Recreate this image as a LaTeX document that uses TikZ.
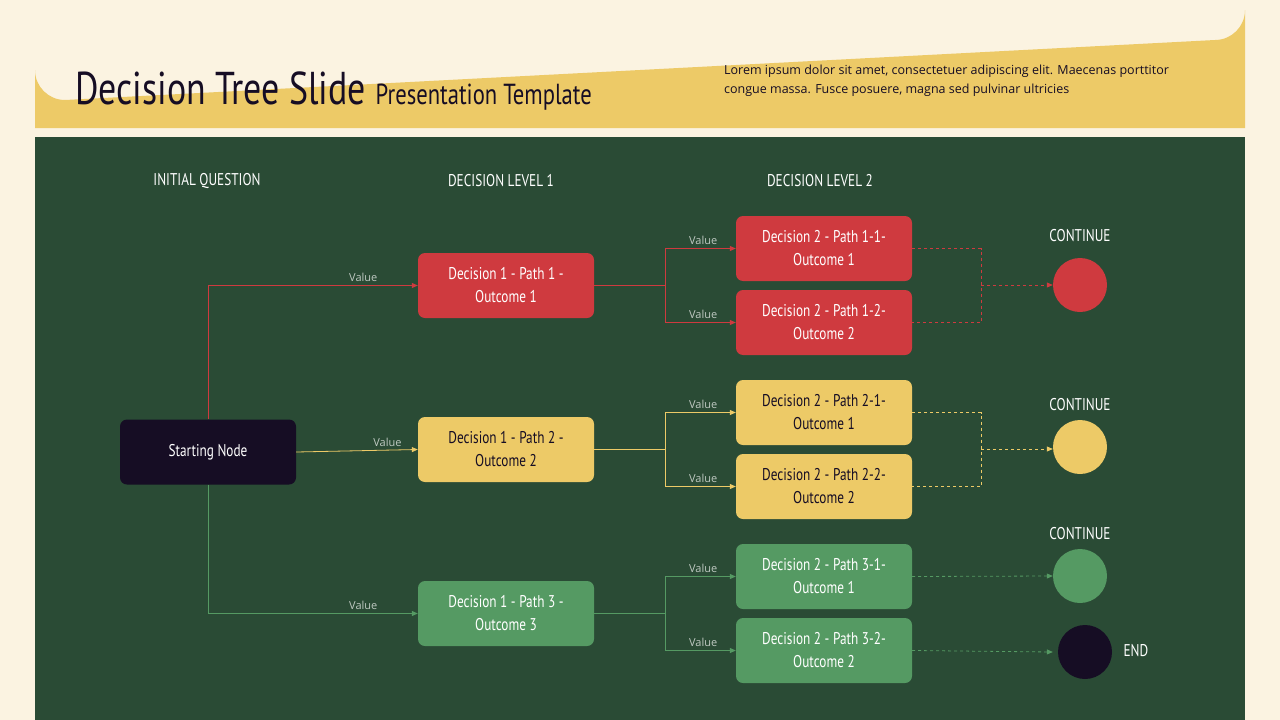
\documentclass[tikz,border=0pt]{standalone}
\usepackage{fontspec}
\setmainfont{Open Sans}
\newfontfamily\cond[FakeStretch=0.78]{PT Sans}
\usetikzlibrary{positioning,arrows.meta}
\definecolor{cream}{HTML}{FBF3E1}
\definecolor{gold}{HTML}{EDCA67}
\definecolor{forest}{HTML}{2A4B35}
\definecolor{berry}{HTML}{CF3A3F}
\definecolor{leaf}{HTML}{559A63}
\definecolor{ink}{HTML}{160D24}
\begin{document}
\begin{tikzpicture}[x=1pt,y=-1pt,
  box/.style={rectangle, rounded corners=7pt, minimum width=176pt, minimum height=65pt,
    align=center, font=\cond\fontsize{17}{23}\selectfont, text=white},
  head/.style={font=\cond\fontsize{17}{20}\selectfont, text=white},
  val/.style={font=\fontsize{11}{12}\selectfont, text=white!70!forest, anchor=south},
  dot/.style={circle, minimum size=54pt, inner sep=0pt},
  link/.style={-{Triangle[length=6pt,width=5pt]}, line width=0.8pt}]

\useasboundingbox (0,0) rectangle (1280,720);
\fill[cream] (0,0) rectangle (1280,720);

% header
\fill[gold] (35,128) -- (35,70) arc (180:90:30) -- (1215,40) arc (90:0:30) -- (1245,128) -- cycle;
\node[anchor=base west, inner sep=0, font=\cond\fontsize{46}{50}\selectfont, text=ink] (title) at (75,104)
  {Decision Tree Slide {\fontsize{29}{30}\selectfont Presentation Template}};
\node[anchor=north west, inner sep=0, align=left, font=\fontsize{12.5}{19}\selectfont, text=ink] (lorem) at (724,65)
  {Lorem ipsum dolor sit amet, consectetuer adipiscing elit. Maecenas porttitor\\congue massa. Fusce posuere, magna sed pulvinar ultricies};

% panel
\fill[forest] (35,137) rectangle (1245,720);

\node[head] (hInit) at (207,181) {INITIAL QUESTION};
\node[head] (hLevel1) at (501,181) {DECISION LEVEL 1};
\node[head] (hLevel2) at (820,181) {DECISION LEVEL 2};

% nodes
\node[box, fill=ink] (start) at (208,452) {Starting Node};

\node[box, fill=berry] (p1) at (506,285.5) {Decision 1 - Path 1 -\\Outcome 1};
\node[box, fill=gold, text=ink] (p2) at (506,449.5) {Decision 1 - Path 2 -\\Outcome 2};
\node[box, fill=leaf] (p3) at (506,613.5) {Decision 1 - Path 3 -\\Outcome 3};

\node[box, fill=berry] (p11) at (824,248.5) {Decision 2 - Path 1-1-\\Outcome 1};
\node[box, fill=berry] (p12) at (824,322.5) {Decision 2 - Path 1-2-\\Outcome 2};
\node[box, fill=gold, text=ink] (p21) at (824,412.5) {Decision 2 - Path 2-1-\\Outcome 1};
\node[box, fill=gold, text=ink] (p22) at (824,486.5) {Decision 2 - Path 2-2-\\Outcome 2};
\node[box, fill=leaf] (p31) at (824,576.5) {Decision 2 - Path 3-1-\\Outcome 1};
\node[box, fill=leaf] (p32) at (824,650.5) {Decision 2 - Path 3-2-\\Outcome 2};

\node[dot, fill=berry] (c1) at (1080,285) {};
\node[dot, fill=gold] (c2) at (1080,447) {};
\node[dot, fill=leaf] (c3) at (1080,576) {};
\node[dot, fill=ink] (c4) at (1085,652) {};

\node[head] (t1) at (1080,236) {CONTINUE};
\node[head] (t2) at (1080,405) {CONTINUE};
\node[head] (t3) at (1080,534) {CONTINUE};
\node[head, anchor=west] (t4) at (1120,651) {END};

% level 1 links
\draw[link, berry] (start.north) |- (p1.west) node[val, pos=0.87] {Value};
\draw[link, gold] (start.east) -- (p2.west) node[val, pos=0.75] {Value};
\draw[link, leaf] (start.south) |- (p3.west) node[val, pos=0.87] {Value};

% level 2 links
\coordinate (j1) at (665,285.5);
\coordinate (j2) at (665,449.5);
\coordinate (j3) at (665,613.5);
\draw[berry, line width=0.8pt] (p1.east) -- (j1);
\draw[link, berry] (j1) |- (p11.west) node[val, pos=0.77] {Value};
\draw[link, berry] (j1) |- (p12.west) node[val, pos=0.77] {Value};
\draw[gold, line width=0.8pt] (p2.east) -- (j2);
\draw[link, gold] (j2) |- (p21.west) node[val, pos=0.77] {Value};
\draw[link, gold] (j2) |- (p22.west) node[val, pos=0.77] {Value};
\draw[leaf, line width=0.8pt] (p3.east) -- (j3);
\draw[link, leaf] (j3) |- (p31.west) node[val, pos=0.77] {Value};
\draw[link, leaf] (j3) |- (p32.west) node[val, pos=0.77] {Value};

% outcome links
\coordinate (k1) at (981,285);
\coordinate (k2) at (981,449);
\draw[berry, dashed, line width=0.8pt] (p11.east) -| (k1) |- (p12.east);
\draw[link, berry, dashed] (k1) -- (c1.west);
\draw[gold, dashed, line width=0.8pt] (p21.east) -| (k2) |- (p22.east);
\draw[link, gold, dashed] (k2) -- (c2.west |- k2);
\draw[link, leaf, dashed] (p31.east) -- (c3.west);
\draw[link, leaf, dashed] (p32.east) -- (c4.west -| c3.west) ;
\end{tikzpicture}
\end{document}
